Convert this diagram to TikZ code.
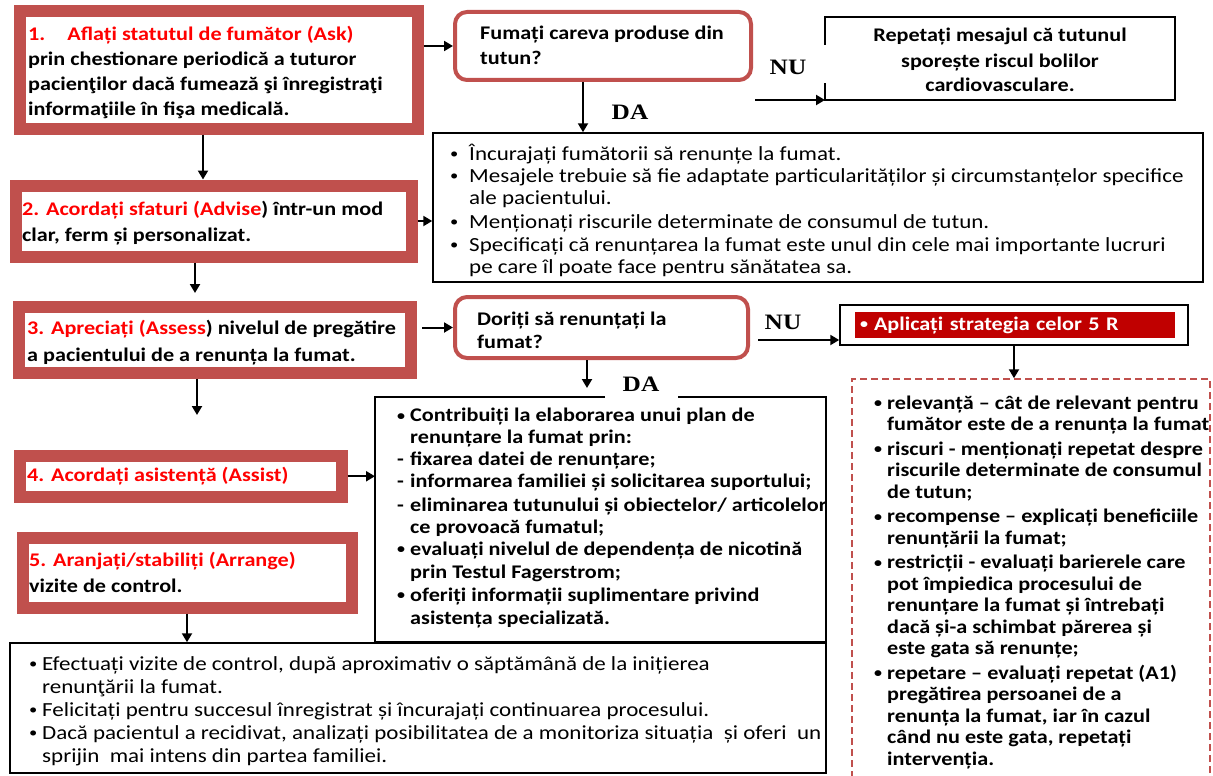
\documentclass[tikz,border=0pt]{standalone}
\usepackage{fontspec}
\usepackage{graphicx}
\usetikzlibrary{arrows.meta}
\newfontfamily\calf{Carlito}[FakeStretch=1.15]
\newfontfamily\tmsf{Liberation Serif}[FakeStretch=1.15]
\definecolor{framered}{HTML}{C0504D}
\definecolor{tred}{HTML}{FF0000}
\definecolor{fillred}{HTML}{C00000}
\newcommand\mybul[1][12pt]{\makebox[#1][l]{\raisebox{1.2pt}{\scalebox{0.72}{•}}}}
\newcommand\myind[1][12pt]{\hspace*{#1}}
\newcommand\mydash[1][12pt]{\makebox[#1][l]{-}}
\begin{document}
\begin{tikzpicture}[x=1pt,y=-1pt,
 stepbox/.style={draw=framered, line width=12pt, inner sep=0pt, outer sep=6pt},
 qbox/.style={draw=framered, line width=4pt, rounded corners=12pt, inner sep=0pt, outer sep=2pt},
 thinbox/.style={draw=black, line width=1.5pt, inner sep=0pt, outer sep=0.75pt},
 plainbox/.style={inner sep=0pt, outer sep=0pt},
 thinline/.style={draw=black, line width=1.5pt},
 arr/.style={line width=2pt, -{Triangle[length=9pt,width=10pt]}},
 txt/.style={anchor=base west, inner sep=0pt, align=left},
 btxt/.style={txt, font={\calf\bfseries\fontsize{19.3}{#1}\selectfont}},
 rtxt/.style={txt, font={\calf\fontsize{20}{#1}\selectfont}},
 lab/.style={inner sep=0pt, font={\tmsf\bfseries\fontsize{22}{24}\selectfont}}
]
\useasboundingbox (0,0) rectangle (1213,776);
\clip (0,0) rectangle (1213,776);

% step boxes
\node[stepbox, minimum width=398, minimum height=117] (b1) at (218.5,70) {};
\node[stepbox, minimum width=396, minimum height=71] (b2) at (213.5,221) {};
\node[stepbox, minimum width=392, minimum height=66] (b3) at (215,339.5) {};
\node[stepbox, minimum width=321.5, minimum height=40.5] (b4) at (180.75,476.25) {};
\node[stepbox, minimum width=329, minimum height=70] (b5) at (187,572.5) {};

% question boxes
\node[qbox, minimum width=296, minimum height=68] (q1) at (603,46) {};
\node[qbox, minimum width=293, minimum height=61] (q2) at (601.5,327.5) {};

% thin boxes
\node[plainbox, minimum width=350, minimum height=83] (rep) at (1000,58.5) {};
\draw[thinline] ([yshift=-28pt]rep.north west) -- (rep.north west) -- (rep.north east)
  -- (rep.south east) -- (rep.south west) -- ([yshift=17pt]rep.south west);
\node[thinbox, minimum width=770, minimum height=149] (adv) at (818,207.5) {};
\node[plainbox, minimum width=451, minimum height=245] (plan) at (600.5,519.5) {};
\draw[thinline] ([xshift=230pt]plan.north west) -- (plan.north west) -- (plan.south west)
  -- (plan.south east) -- (plan.north east) -- ([xshift=-148pt]plan.north east);
\node[thinbox, minimum width=348, minimum height=40] (fiveR) at (1014,325) {};
\node[fill=fillred, text=white, inner sep=0pt, minimum width=320, minimum height=26,
  text width=310, align=left, font={\calf\bfseries\fontsize{19.3}{22}\selectfont}] (fiveRt) at (1015,325) {\mybul[14pt]Aplicați strategia celor 5 R};
\node[draw=framered, line width=1.5pt, dash pattern=on 7pt off 4pt, inner sep=0pt, outer sep=0.75pt,
  minimum width=358, minimum height=421] (rlist) at (1031,589.5) {};
\node[thinbox, minimum width=816, minimum height=130] (bot) at (418,708) {};

% texts of step boxes (anchor = baseline of the last line)
\node[btxt=25] (t1) at (28,115) {\textcolor{tred}{1.\hspace{22pt}Aflați statutul de fumător (Ask)}\\prin chestionare periodică a tuturor\\pacienţilor dacă fumează şi înregistraţi\\informaţiile în fişa medicală.};
\node[btxt=26] (t2) at (22,241) {\textcolor{tred}{2. Acordați sfaturi (Advise}) într-un mod\\clar, ferm și personalizat.};
\node[btxt=27] (t3) at (27,361) {\textcolor{tred}{3. Apreciați (Assess}) nivelul de pregătire\\a pacientului de a renunța la fumat.};
\node[btxt=25] (t4) at (27,481) {\textcolor{tred}{4. Acordați asistență (Assist)}};
\node[btxt=26] (t5) at (29,592) {\textcolor{tred}{5. Aranjați/stabiliți (Arrange)}\\vizite de control.};

% question texts
\node[btxt=25] (q1t) at (480,65) {Fumați careva produse din\\tutun?};
\node[btxt=23] (q2t) at (477,348) {Doriți să renunțați la\\fumat?};
\node[inner sep=0pt, anchor=base, align=center, font={\calf\bfseries\fontsize{19.3}{25}\selectfont}] (rept) at (1000,92) {Repetați mesajul că tutunul\\sporește riscul bolilor\\cardiovasculare.};

% advise list
\node[rtxt=22] (advt) at (450,273) {\mybul[19pt]Încurajați fumătorii să renunțe la fumat.\\
\mybul[19pt]Mesajele trebuie să fie adaptate particularităților și circumstanțelor specifice\\
\myind[19pt]ale pacientului.\\[2pt]
\mybul[19pt]Menționați riscurile determinate de consumul de tutun.\\[1pt]
\mybul[19pt]Specificați că renunțarea la fumat este unul din cele mai importante lucruri\\
\myind[19pt]pe care îl poate face pentru sănătatea sa.};

% plan list
\node[btxt=22] (plant) at (397,624) {\mybul[13pt]Contribuiți la  elaborarea unui plan de\\
\myind[13pt]renunțare la fumat prin:\\
\mydash[13pt]fixarea datei de renunțare;\\
\mydash[13pt]informarea familiei și solicitarea suportului;\\[1.5pt]
\mydash[13pt]eliminarea tutunului și obiectelor/ articolelor\\
\myind[13pt]ce provoacă fumatul;\\
\mybul[13pt]evaluați nivelul de dependența de nicotină\\[1pt]
\myind[13pt]prin Testul Fagerstrom;\\[1pt]
\mybul[13pt]oferiți informații suplimentare privind\\[1pt]
\myind[13pt]asistența specializată.};

% 5 R list
\node[btxt=21.5] (rlt) at (874,765) {\mybul[13pt]relevanță – cât de relevant pentru\\
\myind[13pt]fumător este de a renunța la fumat\\[3pt]
\mybul[13pt]riscuri - menționați repetat despre\\
\myind[13pt]riscurile determinate de consumul\\
\myind[13pt]de tutun;\\[3pt]
\mybul[13pt]recompense – explicați beneficiile\\
\myind[13pt]renunțării la fumat;\\[3pt]
\mybul[13pt]restricții - evaluați barierele care\\
\myind[13pt]pot împiedica procesului de\\
\myind[13pt]renunțare la fumat și întrebați\\
\myind[13pt]dacă și-a schimbat părerea și\\
\myind[13pt]este gata să renunțe;\\[3pt]
\mybul[13pt]repetare – evaluați repetat (A1)\\
\myind[13pt]pregătirea persoanei de a\\
\myind[13pt]renunța la fumat, iar în cazul\\
\myind[13pt]când nu este gata, repetați\\
\myind[13pt]intervenția.};

% bottom list
\node[rtxt=23] (bott) at (29,762) {\mybul[13pt]Efectuați vizite de control, după aproximativ o săptămână de la inițierea\\
\myind[13pt]renunţării la fumat.\\
\mybul[13pt]Felicitați pentru succesul înregistrat și încurajați continuarea procesului.\\
\mybul[13pt]Dacă pacientul a recidivat, analizați posibilitatea de a monitoriza situația \ și oferi \ un\\
\myind[13pt]sprijin \ mai intens din partea familiei.};

% labels
\node[lab] (nu1) at (788,67) {NU};
\node[lab] (da1) at (630,112) {DA};
\node[lab] (nu2) at (783,322) {NU};
\node[lab] (da2) at (641,384) {DA};

% connectors
\coordinate (nu1s) at (755,100);
\coordinate (nu2s) at (758,340);
\draw[arr] (b1.east |- q1.west) -- (q1.west);
\draw[arr] ([xshift=-15.5pt]b1.south) -- ([xshift=-15.5pt]b1.south |- b2.north);
\draw[arr] (b2.east) -- (b2.east -| adv.west);
\draw[arr, shorten >=7.5pt] ([xshift=-18.5pt]b2.south) -- ([xshift=-18.5pt]b2.south |- b3.north);
\draw[arr, shorten <=5pt] (b3.east |- q2.west) -- (q2.west);
\draw[arr, shorten >=35pt] ([xshift=-18pt]b3.south) -- ([xshift=-18pt]b3.south |- b4.north);
\draw[arr] (b4.east) -- (b4.east -| plan.west);
\draw[arr] (b5.south) -- (b5.south |- bot.north);
\draw[arr] ([xshift=-20pt]q1.south) -- ([xshift=-20pt]q1.south |- adv.north);
\draw[arr] (nu1s) -- (nu1s -| rep.west);
\draw[arr] (nu2s) -- (nu2s -| fiveR.west);
\draw[arr, shorten >=9pt] ([xshift=-14.5pt]q2.south) -- ([xshift=-14.5pt]q2.south |- plan.north);
\draw[arr] (fiveR.south) -- (fiveR.south |- rlist.north);
\end{tikzpicture}
\end{document}
